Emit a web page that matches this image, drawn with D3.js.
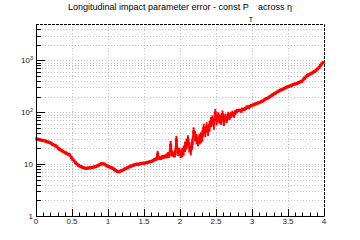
<!DOCTYPE html>
<html>
<head>
<meta charset="utf-8">
<script src="https://cdn.jsdelivr.net/npm/d3@7"></script>
<style>
  body { margin: 0; background: #fff; }
  svg { display: block; }
  text { font-family: "Liberation Sans", Arial, sans-serif; }
</style>
</head>
<body>
<div id="plot"></div>
<script>
// histogram: eta from 0 to 4, 200 bins of 0.02
const eta_min = 0;
const eta_max = 4;
const bin_width = 0.02;

// error on z0 per bin
const z0_error = [
    30.5, 30, 29.5, 29, 28.5, 28.2, 28, 27, 26.5, 26,
    25.2, 24, 23.2, 22.6, 21.5, 20.2, 19.3, 18.5, 17.8, 17,
    16.5, 15.8, 15.5, 15, 13.5, 12.3, 11.5, 10.6, 10, 9.5,
    9.1, 8.9, 8.6, 8.4, 8.3, 8.3, 8.4, 8.5, 8.6, 8.7,
    8.8, 9, 9.2, 9.5, 9.9, 10.2, 10.1, 10, 9.6, 9.2,
    9, 8.7, 8.5, 8.2, 7.8, 7.5, 7.2, 7.1, 7.3, 7.5,
    7.7, 8, 8.2, 8.5, 8.8, 9, 9.3, 9.5, 9.7, 9.9,
    10, 9.9, 10.2, 10.3, 10.4, 10.5, 10.6, 10.8, 11, 11.1,
    11.4, 11.8, 12.3, 12.5, 15.5, 13, 12.9, 13.6, 13.9, 14,
    14.3, 15, 15.2, 23, 16, 15.5, 16, 29, 17.3, 17.5,
    16, 17, 18.5, 22, 25, 29, 21.6, 18.7, 25, 42,
    35, 31, 28, 31, 33, 36, 49, 42, 52, 45,
    55, 66, 71, 60, 95, 70, 82, 76, 72, 90,
    66, 80, 74, 88, 82, 90, 95, 88, 100, 105,
    108, 110, 104, 115, 112, 118, 127, 122, 130, 135,
    137, 140, 145, 148, 152, 155, 160, 165, 172, 180,
    185, 190, 200, 208, 218, 228, 235, 245, 255, 265,
    270, 278, 288, 298, 308, 312, 320, 330, 340, 348,
    352, 360, 372, 385, 392, 420, 450, 480, 510, 530,
    545, 565, 590, 610, 640, 680, 720, 790, 860, 910
];

// bin uncertainties in the noisy part, eta 1.6 .. 2.8 (bins 80..139)
const unc_first_bin = 80;
const z0_unc = [
    0.6, 0.6, 0.8, 0.8, 2.5, 1, 1, 1.2, 1.2, 1.2,
    1.5, 2, 2, 5, 2, 2, 2.5, 6, 3, 3,
    3, 3.5, 4, 5, 6, 7, 5, 4, 6, 9,
    8, 7, 6, 7, 8, 9, 11, 9, 12, 10,
    13, 15, 16, 14, 20, 15, 18, 16, 15, 18,
    12, 14, 12, 14, 12, 12, 12, 10, 10, 10
];

const x_ticks = [0, 0.5, 1, 1.5, 2, 2.5, 3, 3.5, 4];
const x_tick_labels = ["0", "0.5", "1", "1.5", "2", "2.5", "3", "3.5", "4"];
const y_decades = [1, 10, 100, 1000];
const y_range = [1, 5000];

const width = 360;
const height = 240;
const margin = {top: 24, bottom: 24, left: 36, right: 36};

const svg = d3.select('#plot')
    .append('svg')
    .attr('width', width)
    .attr('height', height);

const x = d3.scaleLinear()
    .domain([eta_min, eta_max])
    .range([margin.left, width - margin.right]);

const y = d3.scaleLog()
    .domain(y_range)
    .range([height - margin.bottom, margin.top]);

// minor log ticks 2..9 per decade
let y_minor = [];
y_decades.forEach(d => {
    for (let k = 2; k <= 9; k++) {
        if (d * k < y_range[1]) y_minor.push(d * k);
    }
});
let x_minor = d3.range(0, 41).map(i => i / 10);

// grid
const grid = svg.append("g")
    .attr("stroke", "#c4c4c4")
    .attr("stroke-dasharray", "1,2")
    .attr("stroke-width", 1);
grid.selectAll(".gx")
    .data(x_ticks.slice(1, -1))
    .join("line")
    .attr("x1", d => Math.round(x(d)) + 0.5)
    .attr("x2", d => Math.round(x(d)) + 0.5)
    .attr("y1", margin.top)
    .attr("y2", height - margin.bottom);
grid.selectAll(".gy")
    .data(y_decades.slice(1).concat(y_minor))
    .join("line")
    .attr("x1", margin.left)
    .attr("x2", width - margin.right)
    .attr("y1", d => Math.round(y(d)) + 0.5)
    .attr("y2", d => Math.round(y(d)) + 0.5);

// frame top + right (dashed like the reference)
svg.append("path")
    .attr("d", `M${margin.left},${margin.top + 0.5}H${width - margin.right + 0.5}V${height - margin.bottom}`)
    .attr("fill", "none")
    .attr("stroke", "#000")
    .attr("stroke-dasharray", "3,1");

// data: line through bin centres + error bars + small square markers
const points = z0_error.map((v, i) => {
    let j = i - unc_first_bin;
    let e = (j >= 0 && j < z0_unc.length) ? z0_unc[j] : 0;
    return {eta: eta_min + (i + 0.5) * bin_width, v: v, e: e};
});

svg.append("path")
    .datum(points)
    .attr("fill", "none")
    .attr("stroke", "#ff0000")
    .attr("stroke-width", 2)
    .attr("d", d3.line().x(d => x(d.eta)).y(d => y(d.v)));

svg.append("g")
    .attr("stroke", "#ff0000")
    .attr("stroke-width", 2)
    .selectAll("line")
    .data(points.filter(d => d.e > 0))
    .join("line")
    .attr("x1", d => x(d.eta))
    .attr("x2", d => x(d.eta))
    .attr("y1", d => y(d.v - d.e))
    .attr("y2", d => y(d.v + d.e));

svg.append("g")
    .attr("fill", "#ff0000")
    .selectAll("rect")
    .data(points)
    .join("rect")
    .attr("x", d => x(d.eta) - 1.5)
    .attr("y", d => y(d.v) - 1.5)
    .attr("width", 3)
    .attr("height", 3);

// x axis
const x_axis = svg.append("g");
x_axis.append("line")
    .attr("x1", margin.left).attr("x2", width - margin.right + 0.5)
    .attr("y1", height - margin.bottom + 0.5).attr("y2", height - margin.bottom + 0.5)
    .attr("stroke", "#000");
x_axis.selectAll(".tk")
    .data(x_minor)
    .join("line")
    .attr("x1", d => Math.round(x(d)) + 0.5)
    .attr("x2", d => Math.round(x(d)) + 0.5)
    .attr("y1", height - margin.bottom)
    .attr("y2", d => height - margin.bottom - (Math.abs(d * 2 - Math.round(d * 2)) < 1e-6 ? 7 : 3.5))
    .attr("stroke", "#000");
x_axis.selectAll("text")
    .data(x_ticks)
    .join("text")
    .attr("x", d => x(d))
    .attr("y", height - margin.bottom + 7.5)
    .attr("text-anchor", "middle")
    .attr("font-size", "8px")
    .attr("fill", "#222")
    .text((d, i) => x_tick_labels[i]);

// y axis
const y_axis = svg.append("g");
y_axis.append("line")
    .attr("x1", margin.left + 0.5).attr("x2", margin.left + 0.5)
    .attr("y1", margin.top).attr("y2", height - margin.bottom + 1)
    .attr("stroke", "#000");
y_axis.selectAll(".mj")
    .data(y_decades)
    .join("line")
    .attr("x1", margin.left)
    .attr("x2", margin.left + 9)
    .attr("y1", d => Math.round(y(d)) + 0.5)
    .attr("y2", d => Math.round(y(d)) + 0.5)
    .attr("stroke", "#000");
y_axis.selectAll(".mn")
    .data(y_minor)
    .join("line")
    .attr("x1", margin.left)
    .attr("x2", margin.left + 5)
    .attr("y1", d => Math.round(y(d)) + 0.5)
    .attr("y2", d => Math.round(y(d)) + 0.5)
    .attr("stroke", "#000");

const y_labels = y_axis.selectAll("text")
    .data(y_decades)
    .join("text")
    .attr("x", margin.left - 3)
    .attr("y", d => y(d) + 3)
    .attr("text-anchor", "end")
    .attr("font-size", "8px")
    .attr("fill", "#222");
y_labels.each(function (d) {
    const t = d3.select(this);
    const p = Math.round(Math.log10(d));
    if (p <= 1) {
        t.text(String(d));
    } else {
        t.append("tspan").text("10");
        t.append("tspan").attr("dy", -3).attr("font-size", "5.5px").text(String(p));
    }
});

// title
const title = svg.append("text")
    .attr("x", 180)
    .attr("y", 10)
    .attr("text-anchor", "middle")
    .attr("font-size", "9px")
    .attr("fill", "#000");
title.append("tspan").text("Longitudinal impact parameter error - const P");
title.append("tspan").attr("dy", 12).attr("font-size", "7px").text("T");
title.append("tspan").attr("dy", -12).text("\u00a0 across \u03b7");
</script>
</body>
</html>
